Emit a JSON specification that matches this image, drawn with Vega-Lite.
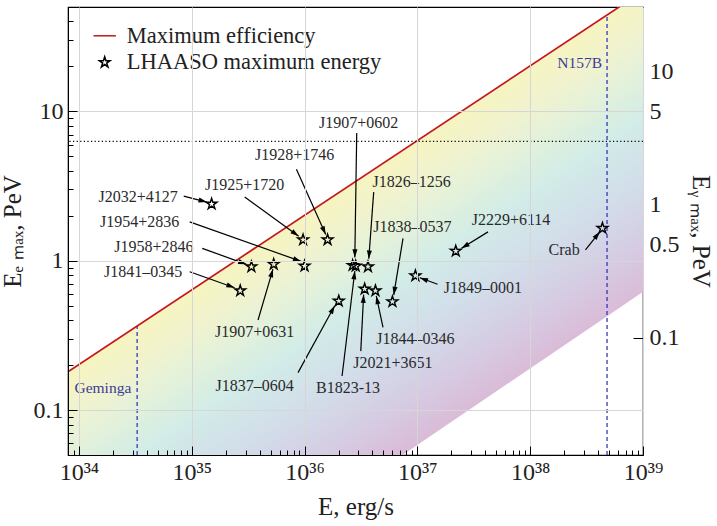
{
  "$schema": "https://vega.github.io/schema/vega-lite/v6.json",
  "width": 575,
  "height": 448,
  "autosize": "none",
  "padding": {"left": 68, "top": 7, "right": 74, "bottom": 71},
  "config": {
    "view": {"stroke": "black", "strokeWidth": 1.2},
    "font": "Liberation Serif",
    "axis": {"labelFont": "Liberation Serif", "titleFont": "Liberation Serif", "labelColor": "#222", "titleColor": "#222", "domainColor": "black", "tickColor": "black", "titleFontWeight": "normal", "gridColor": "#d6d6d6", "gridWidth": 1},
    "text": {"font": "Liberation Serif"}
  },
  "datasets": {
    "band": [
      {"E": 8e33, "lo": 0.05, "hi": 0.1803},
      {"E": 7.4e36, "lo": 0.05, "hi": 5.48},
      {"E": 6.25e38, "lo": 0.487, "hi": 50},
      {"E": 1e39, "lo": 0.62, "hi": 50}
    ],
    "maxeff": [
      {"E": 8e33, "Ee": 0.1803},
      {"E": 1e39, "Ee": 63.8}
    ],
    "markers": [
      {"name": "Geminga", "E": 3.28e34, "lo": 0.05, "hi": 0.365, "lx": 1.63e34, "ly": 0.141},
      {"name": "N157B", "E": 4.8e38, "lo": 0.05, "hi": 44.2, "lx": 2.75e38, "ly": 21.0}
    ],
    "pulsars": [
      {"name": "J2032+4127", "E": 1.50e35, "Ee": 2.40, "series": "LHAASO maximum energy"},
      {"name": "J1925+1720", "E": 9.7e35, "Ee": 1.38, "series": "LHAASO maximum energy"},
      {"name": "J1928+1746", "E": 1.60e36, "Ee": 1.38, "series": "LHAASO maximum energy"},
      {"name": "J1958+2846", "E": 3.38e35, "Ee": 0.912, "series": "LHAASO maximum energy"},
      {"name": "J1907+0631", "E": 5.33e35, "Ee": 0.946, "series": "LHAASO maximum energy"},
      {"name": "J1954+2836", "E": 1.00e36, "Ee": 0.922, "series": "LHAASO maximum energy"},
      {"name": "J1841–0345", "E": 2.69e35, "Ee": 0.630, "series": "LHAASO maximum energy"},
      {"name": "J1907+0602", "E": 2.67e36, "Ee": 0.931, "series": "LHAASO maximum energy"},
      {"name": "B1823-13", "E": 2.84e36, "Ee": 0.922, "series": "LHAASO maximum energy"},
      {"name": "J1826–1256", "E": 3.65e36, "Ee": 0.912, "series": "LHAASO maximum energy"},
      {"name": "J1837–0604", "E": 2.01e36, "Ee": 0.537, "series": "LHAASO maximum energy"},
      {"name": "J2021+3651", "E": 3.41e36, "Ee": 0.647, "series": "LHAASO maximum energy"},
      {"name": "J1844–0346", "E": 4.25e36, "Ee": 0.630, "series": "LHAASO maximum energy"},
      {"name": "J1838–0537", "E": 6.01e36, "Ee": 0.532, "series": "LHAASO maximum energy"},
      {"name": "J1849–0001", "E": 9.6e36, "Ee": 0.794, "series": "LHAASO maximum energy"},
      {"name": "J2229+6114", "E": 2.19e37, "Ee": 1.16, "series": "LHAASO maximum energy"},
      {"name": "Crab", "E": 4.37e38, "Ee": 1.65, "series": "LHAASO maximum energy"}
    ],
    "notes": [
      {"name": "J2032+4127", "lx": 3.35e34, "ly": 2.69, "sx": 8.49e34, "sy": 2.71, "tx": 1.36e35, "ty": 2.47},
      {"name": "J1925+1720", "lx": 2.95e35, "ly": 3.21, "sx": 2.95e35, "sy": 2.67, "tx": 8.87e35, "ty": 1.46},
      {"name": "J1928+1746", "lx": 8.18e35, "ly": 5.10, "sx": 8.47e35, "sy": 4.09, "tx": 1.54e36, "ty": 1.50},
      {"name": "J1907+0602", "lx": 3.02e36, "ly": 8.36, "sx": 2.90e36, "sy": 7.16, "tx": 2.79e36, "ty": 1.05},
      {"name": "J1826–1256", "lx": 8.91e36, "ly": 3.37, "sx": 4.10e36, "sy": 2.88, "tx": 3.71e36, "ty": 1.03},
      {"name": "J1838–0537", "lx": 9.04e36, "ly": 1.67, "sx": 7.46e36, "sy": 1.41, "tx": 6.17e36, "ty": 0.589},
      {"name": "J2229+6114", "lx": 6.76e37, "ly": 1.87, "sx": 4.23e37, "sy": 1.56, "tx": 2.46e37, "ty": 1.21},
      {"name": "Crab", "lx": 2.0e38, "ly": 1.18, "sx": 3.09e38, "sy": 1.18, "tx": 4.14e38, "ty": 1.56},
      {"name": "J1849–0001", "lx": 3.80e37, "ly": 0.653, "sx": 1.51e37, "sy": 0.695, "tx": 1.05e37, "ty": 0.769},
      {"name": "J1844–0346", "lx": 9.6e36, "ly": 0.298, "sx": 4.96e36, "sy": 0.358, "tx": 4.32e36, "ty": 0.581},
      {"name": "J2021+3651", "lx": 6.08e36, "ly": 0.207, "sx": 3.15e36, "sy": 0.248, "tx": 3.34e36, "ty": 0.594},
      {"name": "B1823-13", "lx": 2.43e36, "ly": 0.141, "sx": 2.15e36, "sy": 0.169, "tx": 2.79e36, "ty": 0.853},
      {"name": "J1837–0604", "lx": 3.61e35, "ly": 0.145, "sx": 8.75e35, "sy": 0.178, "tx": 1.85e36, "ty": 0.500},
      {"name": "J1907+0631", "lx": 3.61e35, "ly": 0.335, "sx": 3.87e35, "sy": 0.401, "tx": 5.25e35, "ty": 0.879},
      {"name": "J1841–0345", "lx": 3.70e34, "ly": 0.844, "sx": 9.59e34, "sy": 0.844, "tx": 2.40e35, "ty": 0.659},
      {"name": "J1958+2846", "lx": 4.62e34, "ly": 1.24, "sx": 1.24e35, "sy": 1.21, "tx": 3.05e35, "ty": 0.946},
      {"name": "J1954+2836", "lx": 3.46e34, "ly": 1.82, "sx": 9.59e34, "sy": 1.82, "tx": 9.34e35, "ty": 0.989}
    ]
  },
  "layer": [
    {
      "layer": [
        {
          "data": {"name": "band"},
          "mark": {
            "type": "area",
            "clip": true,
            "fill": {
              "gradient": "linear",
              "x1": 0.45, "y1": 0.433, "x2": 0.784, "y2": 0.824,
              "stops": [
                {"offset": 0, "color": "#f6f4c0"},
                {"offset": 0.13, "color": "#f1f3cf"},
                {"offset": 0.28, "color": "#e1f1dc"},
                {"offset": 0.42, "color": "#d2ece7"},
                {"offset": 0.62, "color": "#d2deea"},
                {"offset": 0.82, "color": "#d5cde3"},
                {"offset": 1, "color": "#dabbd8"}
              ]
            }
          },
          "encoding": {
            "x": {
              "field": "E", "type": "quantitative",
              "scale": {"type": "log", "domain": [8e33, 1e39], "nice": false},
              "axis": {
                "orient": "bottom",
                "values": [9e33, 1e34, 2e34, 3e34, 4e34, 5e34, 6e34, 7e34, 8e34, 9e34, 1e35, 2e35, 3e35, 4e35, 5e35, 6e35, 7e35, 8e35, 9e35, 1e36, 2e36, 3e36, 4e36, 5e36, 6e36, 7e36, 8e36, 9e36, 1e37, 2e37, 3e37, 4e37, 5e37, 6e37, 7e37, 8e37, 9e37, 1e38, 2e38, 3e38, 4e38, 5e38, 6e38, 7e38, 8e38, 9e38, 1e39],
                "labelExpr": "abs(log(datum.value)/LN10 - round(log(datum.value)/LN10)) > 0.01 ? '' : '10' + ['³⁴','³⁵','³⁶','³⁷','³⁸','³⁹'][round(log(datum.value)/LN10) - 34]",
                "labelOverlap": false,
                "labelFlush": false,
                "labelFontSize": 24,
                "labelPadding": 14,
                "tickSize": {"condition": {"test": "abs(log(datum.value)/LN10 - round(log(datum.value)/LN10)) > 0.01", "value": -5}, "value": -9},
                "tickWidth": 1,
                "grid": true,
                "gridOpacity": {"condition": {"test": "abs(log(datum.value)/LN10 - round(log(datum.value)/LN10)) > 0.01", "value": 0}, "value": 1},
                "title": "E, erg/s",
                "titleFontSize": 25,
                "titlePadding": 6,
                "zindex": 1
              }
            },
            "y": {
              "field": "lo", "type": "quantitative",
              "scale": {"type": "log", "domain": [0.05, 50], "nice": false},
              "axis": {
                "orient": "left",
                "values": [0.05, 0.06, 0.07, 0.08, 0.09, 0.1, 0.2, 0.3, 0.4, 0.5, 0.6, 0.7, 0.8, 0.9, 1, 2, 3, 4, 5, 6, 7, 8, 9, 10, 20, 30, 40, 50],
                "format": "~g",
                "labelExpr": "abs(log(datum.value)/LN10 - round(log(datum.value)/LN10)) > 0.01 ? '' : datum.label",
                "labelOverlap": false,
                "labelFlush": false,
                "labelFontSize": 24,
                "labelPadding": 14,
                "tickSize": {"condition": {"test": "abs(log(datum.value)/LN10 - round(log(datum.value)/LN10)) > 0.01", "value": -5}, "value": -9},
                "grid": true,
                "gridOpacity": {"condition": {"test": "abs(log(datum.value)/LN10 - round(log(datum.value)/LN10)) > 0.01", "value": 0}, "value": 1},
                "title": "Eₑ ₘₐₓ, PeV",
                "titleFontSize": 25,
                "titlePadding": 8,
                "zindex": 1
              }
            },
            "y2": {"field": "hi"}
          }
        },
        {
          "data": {"name": "maxeff"},
          "mark": {"type": "line", "clip": true, "color": "#c4161c", "strokeWidth": 1.7},
          "encoding": {
            "x": {"field": "E", "type": "quantitative"},
            "y": {"field": "Ee", "type": "quantitative"}
          }
        },
        {
          "data": {"values": [{"Ee": 6.3}]},
          "mark": {"type": "rule", "color": "black", "strokeWidth": 1.1, "strokeDash": [1.2, 2.4]},
          "encoding": {"y": {"field": "Ee", "type": "quantitative"}}
        },
        {
          "data": {"name": "markers"},
          "mark": {"type": "rule", "color": "#2a2ab8", "strokeWidth": 1.2, "strokeDash": [4, 3]},
          "encoding": {
            "x": {"field": "E", "type": "quantitative"},
            "y": {"field": "lo", "type": "quantitative"},
            "y2": {"field": "hi"}
          }
        },
        {
          "data": {"name": "markers"},
          "mark": {"type": "text", "color": "#3c3c96", "fontSize": 15.5, "align": "center", "baseline": "middle"},
          "encoding": {
            "x": {"field": "lx", "type": "quantitative"},
            "y": {"field": "ly", "type": "quantitative"},
            "text": {"field": "name"}
          }
        },
        {
          "data": {"name": "notes"},
          "mark": {"type": "rule", "color": "black", "strokeWidth": 1.2},
          "encoding": {
            "x": {"field": "sx", "type": "quantitative"},
            "y": {"field": "sy", "type": "quantitative"},
            "x2": {"field": "tx"},
            "y2": {"field": "ty"}
          }
        },
        {
          "data": {"name": "notes"},
          "transform": [
            {"calculate": "atan2((log(datum.tx) - log(datum.sx)) * 112.8, (log(datum.ty) - log(datum.sy)) * 149.33) * 180 / PI", "as": "ang"}
          ],
          "mark": {"type": "point", "shape": "M0,0L-0.26,0.85L0.26,0.85Z", "filled": true, "color": "black", "opacity": 1, "size": 380},
          "encoding": {
            "x": {"field": "tx", "type": "quantitative"},
            "y": {"field": "ty", "type": "quantitative"},
            "angle": {"field": "ang", "type": "quantitative", "scale": null}
          }
        },
        {
          "data": {"name": "notes"},
          "mark": {"type": "text", "color": "#2a2a2a", "fontSize": 16, "align": "center", "baseline": "middle"},
          "encoding": {
            "x": {"field": "lx", "type": "quantitative"},
            "y": {"field": "ly", "type": "quantitative"},
            "text": {"field": "name"}
          }
        },
        {
          "data": {"name": "pulsars"},
          "mark": {"type": "point", "filled": false, "strokeWidth": 1.4, "size": 520, "opacity": 1},
          "encoding": {
            "x": {"field": "E", "type": "quantitative"},
            "y": {"field": "Ee", "type": "quantitative"},
            "shape": {
              "field": "series", "type": "nominal",
              "scale": {"domain": ["Maximum efficiency", "LHAASO maximum energy"], "range": ["M-1,0L1,0", "M0,-0.5L0.1117,-0.1537L0.4755,-0.1545L0.1807,0.0587L0.2939,0.4045L0,0.19L-0.2939,0.4045L-0.1807,0.0587L-0.4755,-0.1545L-0.1117,-0.1537Z"]},
              "legend": {"title": null, "orient": "none", "legendX": 24.7, "legendY": 16.8, "padding": 0, "labelFontSize": 22.5, "labelFont": "Liberation Serif", "labelColor": "#222", "labelLimit": 400, "symbolSize": 500, "symbolStrokeWidth": 1.5, "labelOffset": 10, "rowPadding": 2.6}
            },
            "stroke": {
              "field": "series", "type": "nominal",
              "scale": {"domain": ["Maximum efficiency", "LHAASO maximum energy"], "range": ["#c4161c", "black"]},
              "legend": {"title": null, "orient": "none", "legendX": 24.7, "legendY": 16.8, "padding": 0, "labelFontSize": 22.5, "labelFont": "Liberation Serif", "labelColor": "#222", "labelLimit": 400, "symbolSize": 500, "symbolStrokeWidth": 1.5, "labelOffset": 10, "rowPadding": 2.6}
            }
          }
        }
      ]
    },
    {
      "data": {"values": [{"eg": 0.0131}, {"eg": 30.5}]},
      "mark": {"type": "rule", "opacity": 0},
      "encoding": {
        "y": {
          "field": "eg", "type": "quantitative",
          "scale": {"type": "log", "domain": [0.0131, 30.5], "nice": false},
          "axis": {
            "orient": "right",
            "values": [0.1, 0.5, 1, 5, 10],
            "format": "~g",
            "labelFontSize": 24,
            "labelPadding": 16,
            "labelFlush": false,
            "labelOverlap": false,
            "tickSize": -10,
            "grid": false,
            "domain": false,
            "title": "Eᵧ ₘₐₓ, PeV",
            "titleFontSize": 25,
            "titlePadding": 8
          }
        }
      }
    }
  ],
  "resolve": {"scale": {"y": "independent"}}
}
